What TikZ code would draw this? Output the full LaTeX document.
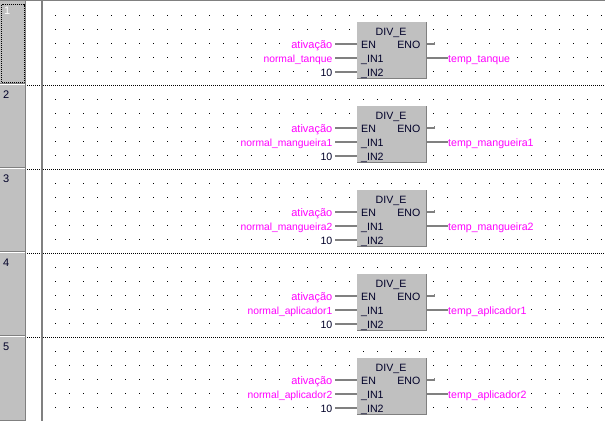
\documentclass[tikz,border=0pt]{standalone}
\usepackage{fontspec}
\setmainfont{Liberation Sans}
\definecolor{panel}{RGB}{192,192,192}
\definecolor{edge}{RGB}{128,128,128}
\definecolor{mag}{RGB}{255,0,255}
\definecolor{navy}{RGB}{0,0,40}
\tikzset{
  x=1pt,y=-1pt,
  lab/.style={font=\fontsize{10.6}{12}\selectfont,inner sep=0pt,anchor=base},
  var/.style={lab,text=mag,fill=white,anchor=base east},
  outvar/.style={lab,text=mag,fill=white,anchor=base west},
  num/.style={lab,text=navy,fill=white,anchor=base east},
  pin/.style={lab,text=navy,anchor=base west},
  wire/.style={draw=edge,line width=1.1pt},
  fblock/.style={draw=none,fill=panel,minimum width=69pt,minimum height=56pt,inner sep=0pt,anchor=north west},
  griddot/.style={fill=black},
  rungline/.style={black,line width=1pt,dash pattern=on 1pt off 1pt},
  rowno/.style={lab,text=navy,anchor=base west,font=\fontsize{11}{12}\selectfont}
}
\begin{document}
\begin{tikzpicture}
\useasboundingbox (0,0) rectangle (605,421);
\fill[white] (0,0) rectangle (605,421);
% left panel
\fill[panel] (0,0) rectangle (25,421);
\fill[edge] (25,0) rectangle (26,421);
\fill[edge] (41,0) rectangle (43,421);
\fill[edge] (0,0) rectangle (605,1);
\fill[edge] (0,420) rectangle (26,421);
% panel separators
\foreach \y in {84,168,252,336} {
  \fill[white] (0,\y) rectangle (25,\y+1.2);
  \fill[edge] (0,\y-1) rectangle (25,\y);
}
% focus rectangle of first row
\draw[black,line width=1pt,dash pattern=on 1pt off 1pt] (1.5,4.5) rectangle (24,82.5);
% row numbers
\node[rowno,text=white] (n1) at (4,14) {1};
\foreach \i/\y in {2/98,3/182,4/266,5/350} {
  \node[rowno] (n\i) at (3,\y) {\i};
}
% rung separators
\foreach \y in {85.5,169.5,253.5,337.5} {
  \draw[rungline] (27,\y) -- (41,\y);
  \draw[rungline] (43,\y) -- (605,\y);
}
% grid dots
\foreach \r in {0,1,2,3,4} {
  \foreach \j in {0,...,4} {
    \foreach \k in {0,...,39} {
      \pgfmathsetmacro{\dx}{55+14*\k}
      \pgfmathsetmacro{\dy}{15+14*\j+84*\r}
      \fill[griddot] (\dx,\dy) rectangle (\dx+1,\dy+1);
    }
  }
}
% function blocks
\foreach \r/\inname/\outname in {
  0/normal\_tanque/tanque,
  1/normal\_mangueira1/mangueira1,
  2/normal\_mangueira2/mangueira2,
  3/normal\_aplicador1/aplicador1,
  4/normal\_aplicador2/aplicador2} {
  \pgfmathsetmacro{\o}{84*\r}
  \begin{scope}[yshift=-\o pt]
    \node[fblock] (b\r) at (357,22) {};
    \fill[edge] (357,78) rectangle (427,79);
    \fill[edge] (426,22) rectangle (427,79);
    \node[lab,text=navy] (t\r) at (391,35) {DIV\_E};
    \node[pin] (en\r) at (361,48) {EN};
    \node[lab,text=navy,anchor=base east] (eno\r) at (420.5,48) {ENO};
    \node[pin] (ia\r) at (361,62) {\_IN1};
    \node[pin] (ib\r) at (361,76) {\_IN2};
    \node[var,font=\fontsize{11}{12}\selectfont] (va\r) at (332.5,48) {ativação};
    \node[var,font=\fontsize{10.3}{12}\selectfont] (vb\r) at (332.5,62) {\inname};
    \node[num] (vc\r) at (332.5,76) {10};
    \node[outvar] (vd\r) at (448,62) {temp\_\outname};
    \coordinate (la\r) at (335,44);
    \coordinate (lb\r) at (335,58);
    \coordinate (lc\r) at (335,72);
    \coordinate (ea\r) at (357,44);
    \coordinate (eb\r) at (357,58);
    \coordinate (ec\r) at (357,72);
    \coordinate (ed\r) at (427,44);
    \coordinate (ee\r) at (434.5,44);
    \coordinate (ef\r) at (427,58);
    \coordinate (eg\r) at (448,58);
    \draw[wire] (la\r) -- (ea\r);
    \draw[wire] (lb\r) -- (eb\r);
    \draw[wire] (lc\r) -- (ec\r);
    \draw[wire] (ed\r) -- (ee\r) -- ++(0,-2);
    \draw[wire] (ef\r) -- (eg\r);
  \end{scope}
}
\end{tikzpicture}
\end{document}
